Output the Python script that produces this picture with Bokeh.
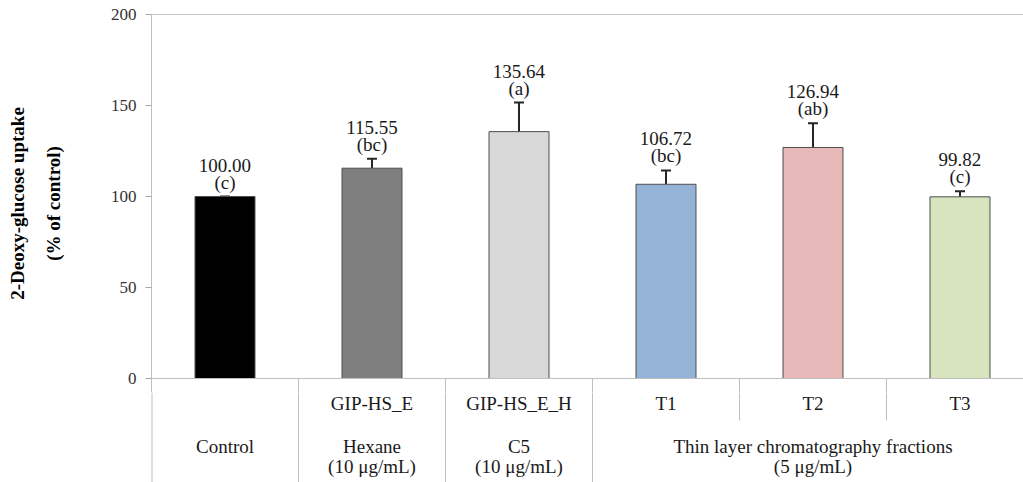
from bokeh.plotting import figure
from bokeh.layouts import column
from bokeh.models import (Range1d, FixedTicker, ColumnDataSource, Whisker,
                          TeeHead, Span)
from bokeh.core.properties import value
from bokeh.embed import file_html
from bokeh.resources import INLINE

# Fractions tested and their 2-DG uptake (% of control)
categories = ["Control", "GIP-HS_E", "GIP-HS_E_H", "T1", "T2", "T3"]
uptake = [100.00, 115.55, 135.64, 106.72, 126.94, 99.82]
sem = [0.0, 5.2, 16.0, 7.6, 13.3, 3.0]
letters = ["c", "bc", "a", "bc", "ab", "c"]
row_labels = ["", "GIP-HS_E", "GIP-HS_E_H", "T1", "T2", "T3"]

# Extraction groups spanning the fractions
group_names = ["Control", "Hexane", "C5", "Thin layer chromatography fractions"]
group_doses = ["", "(10 \u03bcg/mL)", "(10 \u03bcg/mL)", "(5 \u03bcg/mL)"]
group_sizes = [1, 1, 1, 3]

colors = ["#000000", "#7f7f7f", "#d9d9d9", "#95b3d7", "#e6b9b8", "#d7e4bd"]

FONT = "'Liberation Serif', 'Times New Roman', serif"
SERIF = value(FONT)
GRID = "#bfbfbf"
INK = "#1a1a1a"

n = len(categories)
xs = [i + 0.5 for i in range(n)]
x_range = Range1d(0, 5.932)

# ---------------- bar panel ----------------
p = figure(width=1023, height=392, output_backend="svg", toolbar_location=None,
           x_range=x_range, y_range=Range1d(-7.692, 200),
           x_axis_location=None, min_border_left=151, min_border_right=0,
           min_border_top=14, min_border_bottom=0)
p.outline_line_color = None
p.grid.visible = False

yax = p.yaxis[0]
yax.ticker = FixedTicker(ticks=[0, 50, 100, 150, 200])
yax.minor_tick_line_color = None
yax.major_tick_in = 0
yax.major_tick_out = 6
yax.major_tick_line_color = "#a6a6a6"
yax.axis_line_color = GRID
yax.major_label_text_font = FONT
yax.major_label_text_font_size = "17px"
yax.major_label_text_color = "#333333"
yax.major_label_standoff = 9
yax.axis_label = "2-Deoxy-glucose uptake\n(% of control)"
yax.axis_label_text_font = FONT
yax.axis_label_text_font_style = "bold"
yax.axis_label_text_font_size = "19px"
yax.axis_label_text_color = "#000000"
yax.axis_label_text_align = "center"
yax.axis_label_text_line_height = 1.7
yax.axis_label_standoff = 44

p.add_layout(Span(location=200, dimension="width", line_color="#8c8c8c", line_width=1))
p.add_layout(Span(location=0, dimension="width", line_color=GRID, line_width=1))

src = ColumnDataSource(dict(
    x=xs, top=uptake, color=colors,
    upper=[v + e for v, e in zip(uptake, sem)],
    val=[f"{v:.2f}" for v in uptake],
    let=[f"({l})" for l in letters],
    row=row_labels,
))

p.vbar(x="x", top="top", width=0.408, bottom=0, source=src,
       fill_color="color", line_color="#4d4d4d", line_width=1)

p.add_layout(Whisker(source=src, base="x", upper="upper", lower="top",
                     line_color="#262626", line_width=2,
                     upper_head=TeeHead(size=10, line_color="#262626", line_width=2),
                     lower_head=None))

# significance letter just above each error bar, mean value above that
p.text(x="x", y="upper", text="let", source=src, y_offset=-4,
       text_align="center", text_baseline="bottom", text_font=SERIF,
       text_font_size="19px", text_color=INK)
p.text(x="x", y="upper", text="val", source=src, y_offset=-25,
       text_align="center", text_baseline="bottom", text_font=SERIF,
       text_font_size="19px", text_color=INK)

# ---------------- category table ----------------
t = figure(width=1023, height=90, output_backend="svg", toolbar_location=None,
           x_range=x_range, y_range=Range1d(-57.143, -7.692),
           x_axis_location=None, y_axis_location=None,
           min_border_left=151, min_border_right=0,
           min_border_top=0, min_border_bottom=0)
t.outline_line_color = None
t.grid.visible = False
t.add_layout(Span(location=0, dimension="height", line_color=GRID, line_width=2))

y_bottom = -57.143
y_row = -13.7
y_g1 = -37.4
y_g2 = -48.4

# cell dividers: full height between groups, short between fractions of a group
seg_x, seg_y1 = [], []
start = 0
g_centers = []
for size in group_sizes:
    if start > 0:
        seg_x.append(start)
        seg_y1.append(y_bottom)
    for k in range(1, size):
        seg_x.append(start + k)
        seg_y1.append(-23.1)
    g_centers.append(start + size / 2)
    start += size
for fig in (p, t):
    fig.segment(x0=seg_x, y0=[0] * len(seg_x), x1=seg_x, y1=seg_y1,
                line_color=GRID, line_width=1)

# fraction names, then group names with their doses
t.text(x="x", y=y_row, text="row", source=src, text_align="center",
       text_baseline="middle", text_font=SERIF, text_font_size="19px",
       text_color=INK)
t.text(x=g_centers, y=[y_g1] * len(g_centers), text=group_names,
       text_align="center", text_baseline="middle", text_font=SERIF,
       text_font_size="19px", text_color=INK)
t.text(x=g_centers, y=[y_g2] * len(g_centers), text=group_doses,
       text_align="center", text_baseline="middle", text_font=SERIF,
       text_font_size="19px", text_color=INK)

layout = column(p, t, spacing=0)
open("out.html", "w").write(file_html(layout, INLINE))
